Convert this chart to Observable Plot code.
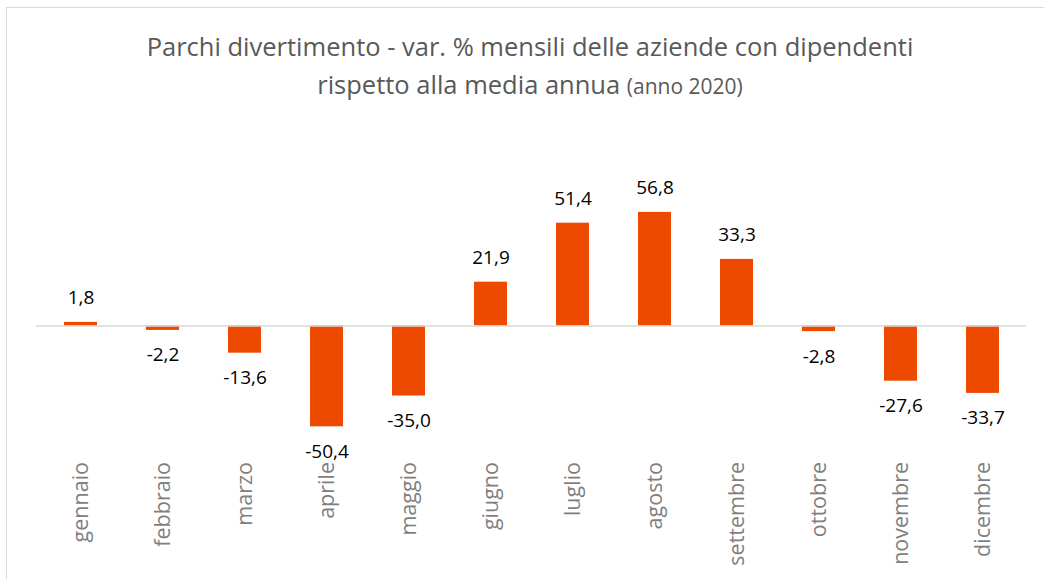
<!DOCTYPE html>
<html>
<head>
<meta charset="utf-8">
<script src="https://cdn.jsdelivr.net/npm/d3@7"></script>
<script src="https://cdn.jsdelivr.net/npm/@observablehq/plot@0.6"></script>
<style>
  html, body { margin: 0; padding: 0; background: #fff; overflow: hidden; }
  #wrap { position: relative; width: 1044px; height: 579px; overflow: hidden; }
  #frame { position: absolute; left: 6px; top: 7px; width: 1100px; height: 700px; border: 1.5px solid #d9d9d9; box-sizing: border-box; }
  #title { position: absolute; left: 16px; top: 0; width: 1028px; height: 110px; text-align: center; font-family: 'Open Sans', sans-serif; color: #595959; font-size: 25.5px; line-height: 38px; padding-top: 27px; box-sizing: border-box; }
  #title .small { font-size: 21px; }
  #chart { position: absolute; left: 0; top: 110px; }
</style>
</head>
<body>
<div id="wrap">
  <div id="frame"></div>
  <div id="title">Parchi divertimento - var. % mensili delle aziende con dipendenti<br>rispetto alla media annua <span class="small">(anno 2020)</span></div>
  <div id="chart"></div>
</div>
<script>
const months = ["gennaio","febbraio","marzo","aprile","maggio","giugno","luglio","agosto","settembre","ottobre","novembre","dicembre"];
const values = [1.8, -2.2, -13.6, -50.4, -35.0, 21.9, 51.4, 56.8, 33.3, -2.8, -27.6, -33.7];
const data = months.map((m, i) => ({month: m, value: values[i]}));
const fmt = v => v.toFixed(1).replace(".", ",");
const FONT = "Open Sans, sans-serif";

const chart = Plot.plot({
  width: 1044,
  height: 469,
  marginLeft: 36,
  marginRight: 18,
  marginTop: 75.5,
  marginBottom: 133.5,
  style: {fontFamily: FONT, background: "transparent", overflow: "visible"},
  x: {domain: months, paddingInner: 0.6, paddingOuter: 0.3, axis: null},
  y: {domain: [-60, 70], axis: null},
  marks: [
    Plot.barY(data, {x: "month", y: "value", fill: "#ED4A00"}),
    Plot.ruleY([0], {stroke: "#d9d9d9", strokeWidth: 1.5}),
    Plot.text(data.filter(d => d.value >= 0), {x: "month", y: "value", text: d => fmt(d.value), dy: -24, fontSize: 19, fontFamily: FONT, fill: "#000"}),
    Plot.text(data.filter(d => d.value < 0), {x: "month", y: "value", text: d => fmt(d.value), dy: 25, fontSize: 19, fontFamily: FONT, fill: "#000"}),
    Plot.axisX({anchor: "bottom", label: null, tickRotate: -90, tickSize: 0, tickPadding: 16, fontSize: 21.5, fontFamily: FONT, fill: "#7f7f7f", stroke: "none"})
  ]
});
document.getElementById("chart").appendChild(chart);
</script>
</body>
</html>
